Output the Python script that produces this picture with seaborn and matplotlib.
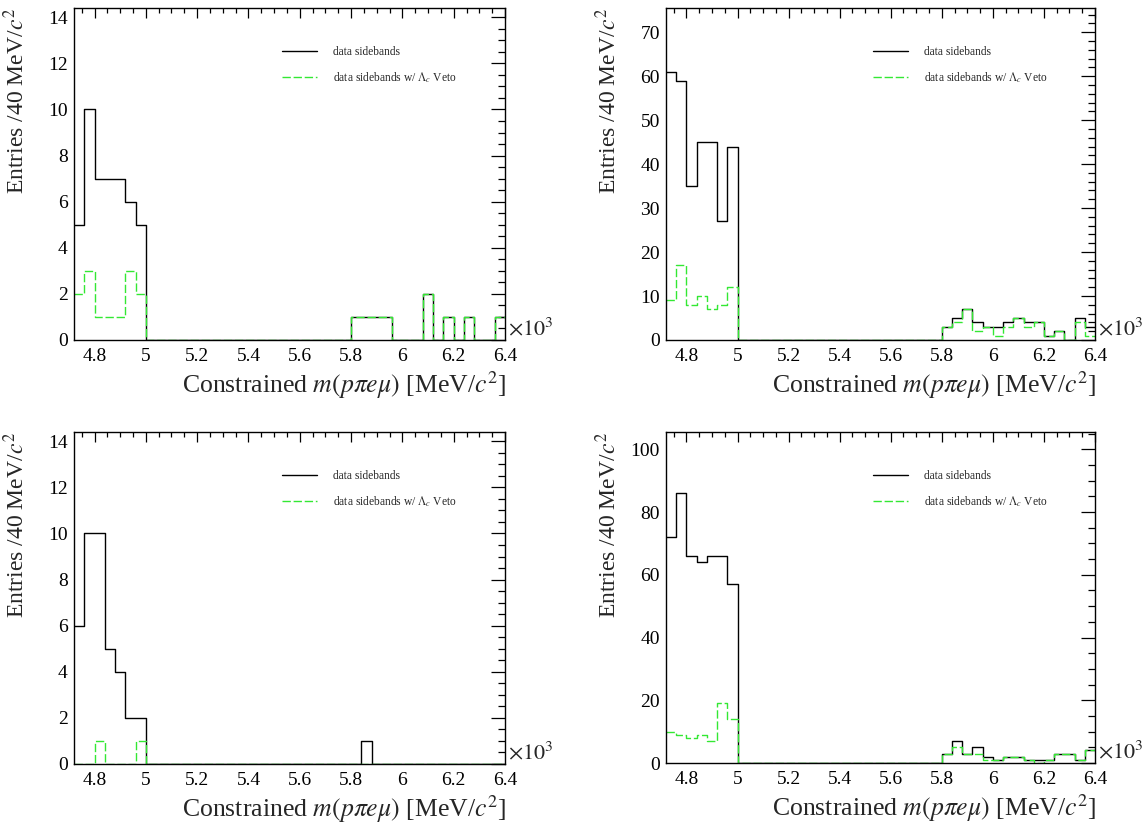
import numpy as np
import pandas as pd
import matplotlib
matplotlib.use("Agg")
import matplotlib.pyplot as plt
import seaborn as sns
from matplotlib.lines import Line2D
from matplotlib.ticker import MultipleLocator, FuncFormatter

sns.set_theme(style="white")
plt.rcParams["font.family"] = ["Liberation Serif", "DejaVu Serif"]
plt.rcParams["mathtext.fontset"] = "stix"

# 40 MeV/c^2 bins, mass axis in units of 10^3 MeV/c^2
x_lo, x_hi, bin_w = 4.72, 6.40, 0.04
bin_centers = np.round(x_lo + bin_w * (np.arange(42) + 0.5), 3)

# top-left
sb_tl = [5, 10, 7, 7, 7, 6, 5,
         0, 0, 0, 0, 0, 0, 0, 0, 0, 0, 0, 0, 0, 0, 0, 0, 0, 0, 0, 0,
         1, 1, 1, 1, 0, 0, 0, 2, 0, 1, 0, 1, 0, 0, 1]
veto_tl = [2, 3, 1, 1, 1, 3, 2,
           0, 0, 0, 0, 0, 0, 0, 0, 0, 0, 0, 0, 0, 0, 0, 0, 0, 0, 0, 0,
           1, 1, 1, 1, 0, 0, 0, 2, 0, 1, 0, 1, 0, 0, 1]
# top-right
sb_tr = [61, 59, 35, 45, 45, 27, 44,
         0, 0, 0, 0, 0, 0, 0, 0, 0, 0, 0, 0, 0, 0, 0, 0, 0, 0, 0, 0,
         3, 5, 7, 4, 3, 3, 4, 5, 4, 4, 1, 2, 0, 5, 3]
veto_tr = [9, 17, 8, 10, 7, 8, 12,
           0, 0, 0, 0, 0, 0, 0, 0, 0, 0, 0, 0, 0, 0, 0, 0, 0, 0, 0, 0,
           3, 4, 7, 2, 3, 1, 3, 5, 3, 4, 1, 2, 0, 4, 1]
# bottom-left
sb_bl = [6, 10, 10, 5, 4, 2, 2,
         0, 0, 0, 0, 0, 0, 0, 0, 0, 0, 0, 0, 0, 0, 0, 0, 0, 0, 0, 0,
         0, 1, 0, 0, 0, 0, 0, 0, 0, 0, 0, 0, 0, 0, 0]
veto_bl = [0, 0, 1, 0, 0, 0, 1,
           0, 0, 0, 0, 0, 0, 0, 0, 0, 0, 0, 0, 0, 0, 0, 0, 0, 0, 0, 0,
           0, 0, 0, 0, 0, 0, 0, 0, 0, 0, 0, 0, 0, 0, 0]
# bottom-right
sb_br = [72, 86, 66, 64, 66, 66, 57,
         0, 0, 0, 0, 0, 0, 0, 0, 0, 0, 0, 0, 0, 0, 0, 0, 0, 0, 0, 0,
         3, 7, 3, 5, 2, 1, 2, 2, 1, 1, 1, 3, 3, 1, 4]
veto_br = [10, 9, 8, 9, 7, 19, 14,
           0, 0, 0, 0, 0, 0, 0, 0, 0, 0, 0, 0, 0, 0, 0, 0, 0, 0, 0, 0,
           3, 5, 3, 3, 1, 1, 2, 2, 1, 0, 1, 3, 3, 1, 4]

x_ticks = [4.8, 5.0, 5.2, 5.4, 5.6, 5.8, 6.0, 6.2, 6.4]
label_sb = "data sidebands"
label_veto = r"data sidebands w/ $\Lambda_{c}$ Veto"
xlabel = r"Constrained $m(p\pi e\mu)$ [MeV/$c^2$]"
ylabel = r"Entries /40 MeV/$c^2$"

GREEN = "#33e833"
DASH = (0, (6, 2))
W, H = 1147, 825

panels = [
    # (sidebands, vetoed, ymax, major, minor, left px, top px, right px, bottom px)
    (sb_tl, veto_tl, 14.4, 2, 0.5, 74, 8, 505, 340),
    (sb_tr, veto_tr, 75.5, 10, 2, 666, 8, 1095, 340),
    (sb_bl, veto_bl, 14.4, 2, 0.5, 74, 432, 505, 764),
    (sb_br, veto_br, 105.5, 20, 5, 666, 432, 1095, 763),
]

fig = plt.figure(figsize=(W / 100, H / 100), dpi=100)
fig.patch.set_facecolor("white")

for sb, veto, ymax, major, minor, l, t, r, b in panels:
    ax = fig.add_axes([l / W, 1 - b / H, (r - l) / W, (b - t) / H])
    ax.set_facecolor("white")
    df = pd.DataFrame({"mass": bin_centers,
                       "sb": np.asarray(sb, dtype=float),
                       "veto": np.asarray(veto, dtype=float)})
    sns.histplot(data=df, x="mass", weights="sb", binwidth=bin_w,
                 binrange=(x_lo, x_hi), element="step", fill=False,
                 color="black", linewidth=1.0, ax=ax)
    sns.histplot(data=df, x="mass", weights="veto", binwidth=bin_w,
                 binrange=(x_lo, x_hi), element="step", fill=False,
                 color=GREEN, linewidth=1.0, linestyle=DASH, ax=ax)
    ax.set_xlim(x_lo, x_hi)
    ax.set_ylim(0, ymax)

    ax.set_xticks(x_ticks)
    ax.xaxis.set_minor_locator(MultipleLocator(0.05))
    ax.xaxis.set_major_formatter(FuncFormatter(lambda v, p: f"{v:g}"))
    ax.yaxis.set_major_locator(MultipleLocator(major))
    ax.yaxis.set_minor_locator(MultipleLocator(minor))
    ax.yaxis.set_major_formatter(FuncFormatter(lambda v, p: f"{v:g}"))

    ax.tick_params(axis="both", which="both", direction="in",
                   top=True, right=True, colors="black", width=0.9)
    ax.tick_params(axis="x", which="major", length=7, labelsize=14, pad=6)
    ax.tick_params(axis="x", which="minor", length=3.5)
    ax.tick_params(axis="y", which="major", length=10, labelsize=14, pad=4.5)
    ax.tick_params(axis="y", which="minor", length=5)
    for s in ax.spines.values():
        s.set_visible(True)
        s.set_color("black")
        s.set_linewidth(1.0)

    ax.set_xlabel(xlabel, fontsize=18.5, loc="right")
    ax.xaxis.set_label_coords(1.003, -0.089)
    ax.set_ylabel(ylabel, fontsize=17, loc="top")
    ax.yaxis.set_label_coords(-0.105, 1.0)

    ax.text(1.006, 0.0, r"$\times10^{3}$", transform=ax.transAxes,
            ha="left", va="bottom", fontsize=16)

    handles = [Line2D([], [], color="black", linewidth=1.0),
               Line2D([], [], color=GREEN, linewidth=1.0, linestyle=DASH)]
    ax.legend(handles, [label_sb, label_veto], loc="upper left",
              bbox_to_anchor=(0.483, 0.885), frameon=False, fontsize=8.3,
              handlelength=3.0, handletextpad=1.4, labelspacing=1.05,
              borderpad=0, borderaxespad=0)

fig.savefig("out.png", dpi=100, facecolor="white")
